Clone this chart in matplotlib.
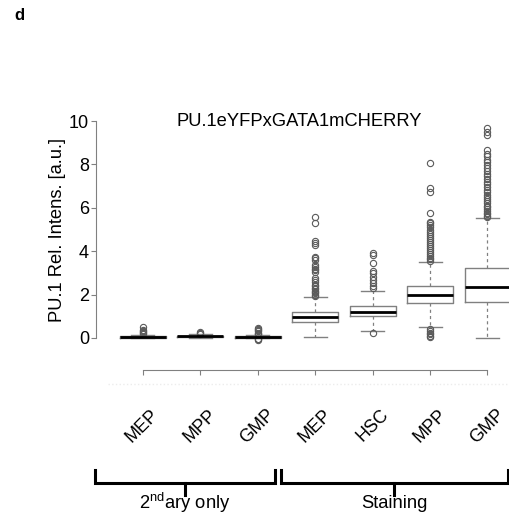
import matplotlib.pyplot as plt
import matplotlib.transforms as mtransforms

plt.rcParams['font.family'] = ['Liberation Sans', 'DejaVu Sans']

# groups (left: secondary antibody only, right: stained)
labels = ['MEP', 'MPP', 'GMP', 'MEP', 'HSC', 'MPP', 'GMP']
medians = [0.05, 0.07, 0.05, 0.95, 1.22, 1.98, 2.34]
q1 = [0.02, 0.04, 0.02, 0.72, 1.01, 1.60, 1.65]
q3 = [0.08, 0.11, 0.08, 1.21, 1.49, 2.40, 3.21]
whislo = [0.0, 0.0, 0.0, 0.03, 0.32, 0.49, 0.01]
whishi = [0.15, 0.18, 0.15, 1.90, 2.18, 3.49, 5.52]
fliers = [
    [0.52, 0.35, 0.3, 0.26, 0.22, 0.18],
    [0.26, 0.23, 0.2],
    [0.45, 0.4, 0.35, 0.3, 0.25, 0.2, 0.17, -0.03, -0.06, -0.1],
    [5.59, 5.31, 4.45, 4.38, 4.29, 3.75, 3.67, 3.59, 3.36, 3.28, 3.2, 3.12,
     3.06, 2.76, 2.68, 2.59, 2.45, 2.38, 2.3, 2.25, 2.18, 2.12, 2.06, 2.0, 1.95],
    [3.93, 3.82, 3.47, 3.1, 2.98, 2.81, 2.68, 2.55, 2.4, 2.3, 0.22],
    [8.05, 6.9, 6.74, 5.77, 5.36, 5.28, 5.2, 5.1, 5.0, 4.9, 4.8, 4.72, 4.62,
     4.52, 4.42, 4.33, 4.25, 4.15, 4.05, 3.95, 3.86, 3.78, 3.7, 3.62, 3.56,
     0.4, 0.32, 0.25, 0.18, 0.1, 0.03],
    [9.66, 9.5, 9.35, 8.66, 8.5, 8.38, 8.22, 8.1, 7.95, 7.82, 7.7, 7.58, 7.45,
     7.32, 7.2, 7.08, 6.95, 6.84, 6.72, 6.6, 6.5, 6.4, 6.3, 6.2, 6.1, 6.02,
     5.94, 5.86, 5.78, 5.7, 5.63, 5.56],
]
title = 'PU.1eYFPxGATA1mCHERRY'
ylabel = 'PU.1 Rel. Intens. [a.u.]'
group_names = [r'2$^{\mathregular{nd}}$ary only', 'Staining']

W, H = 509, 523
fig = plt.figure(figsize=(W / 100, H / 100), dpi=100)

# axes in pixel layout
ax = fig.add_axes([96 / W, 1 - 344.5 / H, 413 / W, 230 / H])
ax.set_xlim(0.19, 7.374)
ax.set_ylim(-0.3, 10.3)

stats = []
for i in range(len(labels)):
    stats.append(dict(med=medians[i], q1=q1[i], q3=q3[i], whislo=whislo[i],
                      whishi=whishi[i], fliers=fliers[i], label=labels[i]))

grey = '#808080'
ax.bxp(stats, positions=range(1, len(labels) + 1), widths=0.8,
       boxprops=dict(color=grey, lw=1.0),
       medianprops=dict(color='black', lw=2.0),
       whiskerprops=dict(color=grey, lw=0.9, linestyle=(0, (2.5, 2.5))),
       capprops=dict(color=grey, lw=1.0),
       flierprops=dict(marker='o', markersize=4.5, markerfacecolor='none',
                       markeredgecolor='#5a5a5a', markeredgewidth=0.8))

for s in ['top', 'right']:
    ax.spines[s].set_visible(False)
ax.spines['left'].set_bounds(0, 10)
ax.spines['left'].set_color(grey)
ax.spines['bottom'].set_bounds(1, 7)
ax.spines['bottom'].set_color(grey)
ax.spines['bottom'].set_position(('outward', 18.7))

ax.set_yticks([0, 2, 4, 6, 8, 10])
ax.tick_params(axis='y', direction='out', length=3.6, color=grey, pad=1.5,
               labelsize=13)
ax.set_xticks(range(1, len(labels) + 1))
ax.set_xticklabels(labels, rotation=45, ha='center')
ax.tick_params(axis='x', direction='out', length=3.6, color=grey, pad=22,
               labelsize=13)

fig.text(299 / W, 1 - 126.5 / H, title, ha='center', va='baseline', fontsize=13.2)
fig.text(58 / W, 1 - 230 / H, ylabel, rotation=90, ha='center', va='center',
         fontsize=13.2)
fig.text(14 / W, 1 - 16 / H, 'd', ha='left', va='center', fontsize=12,
         fontweight='bold')

# faint dotted line below the axis
tr = mtransforms.blended_transform_factory(ax.transData, fig.transFigure)
ax.plot([0.4, 7.4], [1 - 384 / H] * 2, color='#ececec', lw=1, ls=':',
        transform=tr, clip_on=False)

# group brackets
brackets = [(0.17, 3.30), (3.41, 7.35)]
for (a, b), name in zip(brackets, group_names):
    m = (a + b) / 2
    ax.plot([a, a, b, b], [1 - 470 / H, 1 - 483 / H, 1 - 483 / H, 1 - 470 / H],
            color='black', lw=2.2, transform=tr, clip_on=False,
            solid_joinstyle='miter')
    ax.plot([m, m], [1 - 483 / H, 1 - 495 / H], color='black', lw=2.2,
            transform=tr, clip_on=False)
    ax.text(m, 1 - 503 / H, name, ha='center', va='center', fontsize=13.2,
            transform=tr)

fig.savefig('out.png', dpi=100)
